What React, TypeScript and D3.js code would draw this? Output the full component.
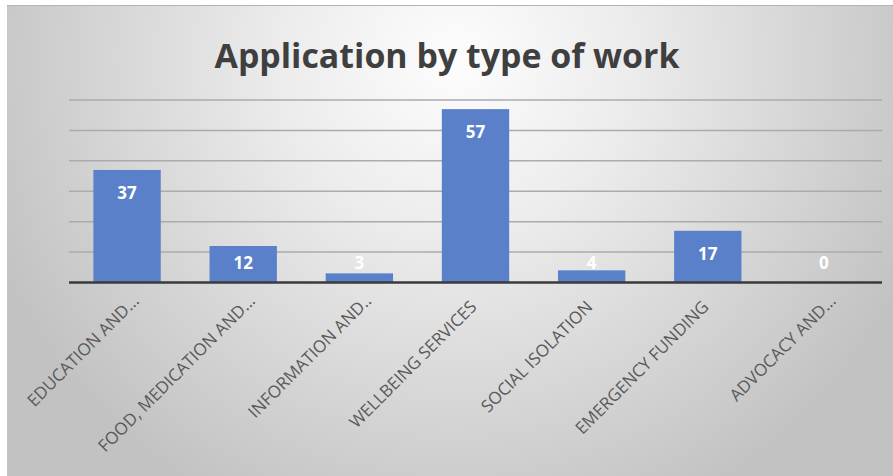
import React from "react";
import * as d3 from "d3";

const categories = [
  "EDUCATION AND...",
  "FOOD, MEDICATION AND...",
  "INFORMATION AND..",
  "WELLBEING SERVICES",
  "SOCIAL ISOLATION",
  "EMERGENCY FUNDING",
  "ADVOCACY AND...",
];
const values = [37, 12, 3, 57, 4, 17, 0];
const gridTicks = [10, 20, 30, 40, 50, 60];
const title = "Application by type of work";

const W = 893;
const H = 476;
const plotLeft = 69;
const plotRight = 882;
const plotTop = 100;
const plotBottom = 282.5;

export default function App() {
  const x = d3
    .scaleBand<string>()
    .domain(categories)
    .range([plotLeft, plotRight])
    .paddingInner(0.42)
    .paddingOuter(0.21);
  const y = d3.scaleLinear().domain([0, 60]).range([plotBottom, plotTop]);

  return (
    <svg
      width={W}
      height={H}
      style={{ position: "absolute", left: 0, top: 0 }}
      xmlns="http://www.w3.org/2000/svg"
    >
      <defs>
        <radialGradient
          id="bg"
          gradientUnits="userSpaceOnUse"
          cx={455}
          cy={60}
          r={500}
        >
          <stop offset="0" stopColor="#fdfdfd" />
          <stop offset="0.35" stopColor="#ececec" />
          <stop offset="1" stopColor="#c2c2c2" />
        </radialGradient>
      </defs>
      <rect x={0} y={0} width={W} height={H} fill="#ffffff" />
      <rect x={7} y={5} width={W - 7} height={H - 5} fill="url(#bg)" />
      <line x1={7} x2={W} y1={5.5} y2={5.5} stroke="#b4b4b4" strokeWidth={1} />

      <text
        x={447}
        y={68}
        textAnchor="middle"
        fontFamily="'Open Sans', sans-serif"
        fontWeight={700}
        fontSize={34}
        fill="#3f3f3f"
        textLength={465}
        lengthAdjust="spacingAndGlyphs"
      >
        {title}
      </text>

      {gridTicks.map((t) => (
        <line
          key={t}
          x1={plotLeft}
          x2={plotRight}
          y1={y(t)}
          y2={y(t)}
          stroke="#ababab"
          strokeWidth={1.5}
        />
      ))}

      {categories.map((c, i) => (
        <rect
          key={c}
          x={x(c)}
          y={y(values[i])}
          width={x.bandwidth()}
          height={plotBottom - y(values[i])}
          fill="#5a80ca"
        />
      ))}

      <line
        x1={plotLeft}
        x2={plotRight}
        y1={plotBottom}
        y2={plotBottom}
        stroke="#3a3a3a"
        strokeWidth={2.5}
      />

      {categories.map((c, i) => {
        const cx = (x(c) as number) + x.bandwidth() / 2;
        const by = Math.min(y(values[i]) + 29, y(0) - 14);
        return (
          <text
            key={"v" + c}
            x={cx}
            y={by}
            textAnchor="middle"
            fontFamily="'Open Sans', sans-serif"
            fontWeight={700}
            fontSize={17}
            fill="#ffffff"
          >
            {values[i]}
          </text>
        );
      })}

      {categories.map((c) => {
        const cx = (x(c) as number) + x.bandwidth() / 2;
        const truncated = c.endsWith("..");
        const px = cx + (truncated ? 13 : 2);
        const py = truncated ? 302 : 308;
        return (
          <text
            key={"l" + c}
            transform={`translate(${px},${py}) rotate(-45)`}
            textAnchor="end"
            fontFamily="'Open Sans', sans-serif"
            fontSize={17}
            fill="#595959"
          >
            {c}
          </text>
        );
      })}
    </svg>
  );
}
